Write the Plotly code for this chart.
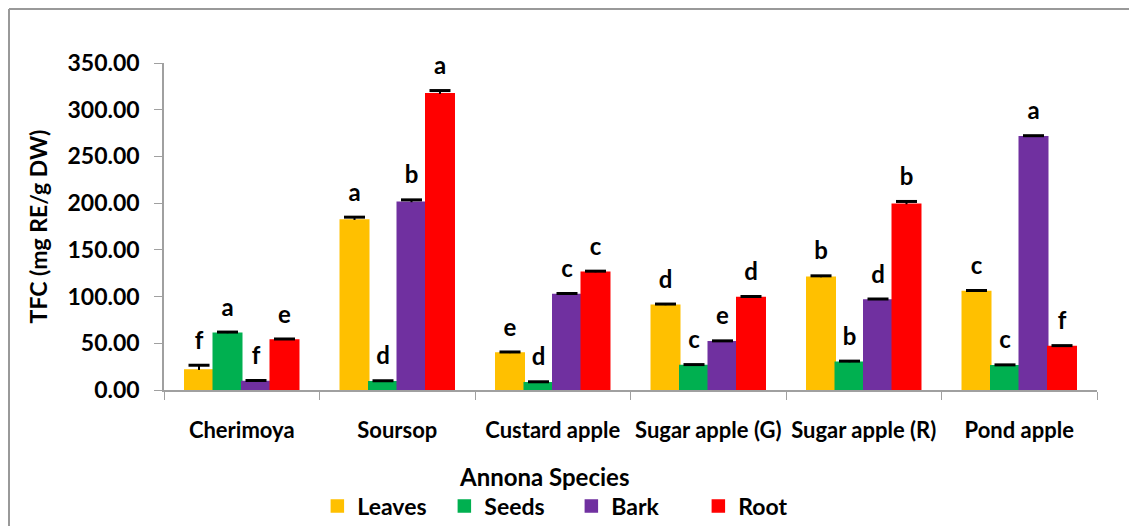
import plotly.graph_objects as go

categories = ["Cherimoya", "Soursop", "Custard apple", "Sugar apple (G)", "Sugar apple (R)", "Pond apple"]
series_names = ["Leaves", "Seeds", "Bark", "Root"]
colors = ["#FFC000", "#00B050", "#7030A0", "#FF0000"]

leaves = [21.5, 182.0, 39.5, 90.8, 120.7, 105.3]
seeds = [60.8, 8.9, 7.8, 26.2, 29.7, 25.9]
bark = [9.2, 201.0, 102.3, 51.6, 96.4, 271.0]
root = [53.6, 317.0, 126.0, 98.9, 198.8, 46.5]

leaves_err = [5.0, 3.0, 1.2, 1.2, 1.5, 1.2]
seeds_err = [1.2, 1.0, 1.0, 1.0, 1.2, 1.0]
bark_err = [1.0, 2.5, 1.0, 1.0, 1.0, 1.2]
root_err = [1.0, 3.5, 1.2, 1.2, 3.0, 1.0]

leaves_letters = ["f", "a", "e", "d", "b", "c"]
seeds_letters = ["a", "d", "d", "c", "b", "c"]
bark_letters = ["f", "b", "c", "e", "d", "a"]
root_letters = ["e", "a", "c", "d", "b", "f"]

values = [leaves, seeds, bark, root]
errors = [leaves_err, seeds_err, bark_err, root_err]
letters = [leaves_letters, seeds_letters, bark_letters, root_letters]

FONT = "Lato"
GAP = 0.267

# the page adds an 8px body margin; figure is sized to fill the rest
W, H = 1129, 518
L, T, R, B = 156, 55, 40, 136
PW, PH = W - L - R, H - T - B

fig = go.Figure()
for name, col, v, e in zip(series_names, colors, values, errors):
    fig.add_trace(go.Bar(
        x=categories, y=v, name=name, marker_color=col,
        marker_line=dict(color=col, width=1.5),
        error_y=dict(type="data", array=e, arrayminus=[0] * len(e), symmetric=False,
                     color="black", thickness=2, width=0),
    ))

# error-bar caps (top only) and significance letters
for name, v, e, lt in zip(series_names, values, errors, letters):
    fig.add_trace(go.Scatter(
        x=categories, y=[a + b for a, b in zip(v, e)], text=lt,
        mode="markers+text", textposition="top center",
        marker=dict(symbol="line-ew", size=15, color="black",
                    line=dict(color="black", width=3)),
        textfont=dict(family=FONT, size=24, color="black", weight="bold"),
        cliponaxis=False,
        showlegend=False, hoverinfo="skip", name=name + " sig",
    ))

bx = -(L - 1) / PW
by = 1 + (T - 1) / PH

fig.update_layout(
    width=W, height=H,
    margin=dict(l=L, r=R, t=T, b=B, autoexpand=False),
    plot_bgcolor="white", paper_bgcolor="white",
    barmode="group", bargap=GAP, bargroupgap=0,
    scattermode="group", scattergap=GAP,
    font=dict(family=FONT, color="black"),
    legend=dict(orientation="h", xref="container", yref="container",
                x=0.274, xanchor="left", y=(H - 498) / H, yanchor="middle",
                entrywidth=82, entrywidthmode="pixels",
                font=dict(family=FONT, size=23, color="black", weight="bold"),
                itemclick=False, tracegroupgap=0),
    xaxis=dict(
        automargin=False,
        showline=True, linecolor="#A0A0A0", linewidth=1.5,
        ticks="outside", tickson="boundaries", ticklen=8, tickcolor="#A0A0A0",
        tickfont=dict(family=FONT, size=22, color="black", weight="bold"),
        ticklabelstandoff=20,
    ),
    yaxis=dict(
        automargin=False,
        range=[0, 350], dtick=50, tickformat=".2f",
        showline=True, linecolor="#A0A0A0", linewidth=1.5,
        ticks="outside", ticklen=8, tickcolor="#A0A0A0",
        showgrid=False, zeroline=False,
        tickfont=dict(family=FONT, size=23, color="black", weight="bold"),
        ticklabelstandoff=10,
        title=dict(text="TFC (mg RE/g DW)", standoff=13,
                   font=dict(family=FONT, size=23, color="black", weight="bold")),
    ),
    annotations=[
        dict(text="Annona Species", xref="paper", yref="paper",
             x=(536 - L) / PW, y=-(468 - (T + PH)) / PH,
             xanchor="center", yanchor="middle", showarrow=False,
             font=dict(family=FONT, size=24, color="black", weight="bold")),
    ],
    shapes=[
        dict(type="line", xref="paper", yref="paper", x0=bx, x1=bx, y0=-0.5, y1=by,
             line=dict(color="#999999", width=2)),
        dict(type="line", xref="paper", yref="paper", x0=bx, x1=1.2, y0=by, y1=by,
             line=dict(color="#999999", width=2)),
    ],
)

fig.write_html("out.html")
